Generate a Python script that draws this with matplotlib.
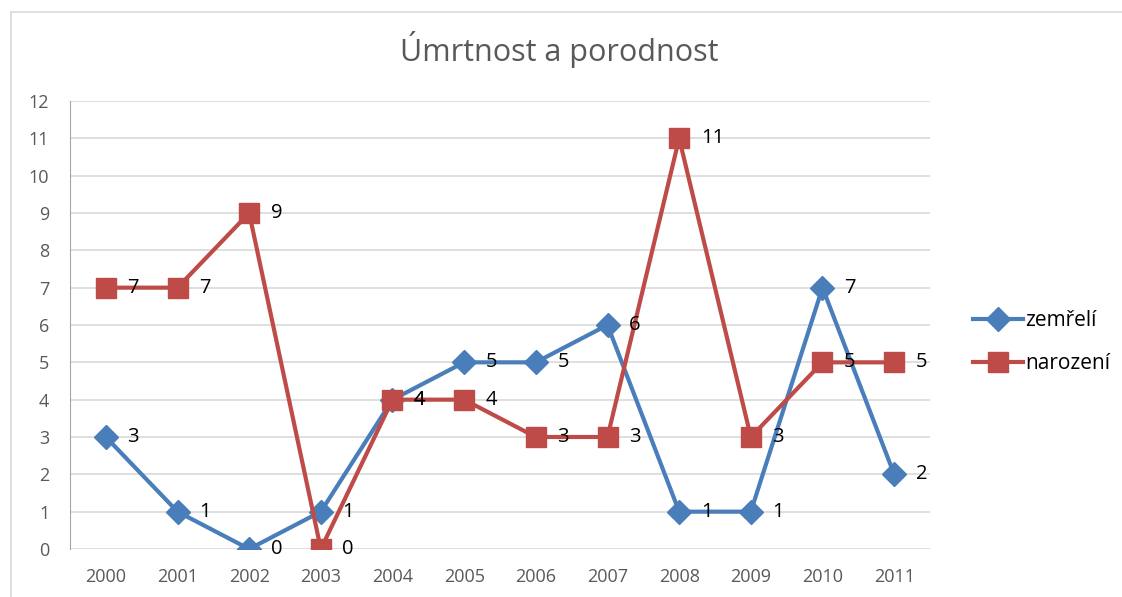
import matplotlib
matplotlib.use("Agg")
import matplotlib.pyplot as plt
from matplotlib.lines import Line2D

plt.rcParams['font.family'] = ['Open Sans', 'DejaVu Sans']

years = ['2000', '2001', '2002', '2003', '2004', '2005',
         '2006', '2007', '2008', '2009', '2010', '2011']
zemreli = [3, 1, 0, 1, 4, 5, 5, 6, 1, 1, 7, 2]
narozeni = [7, 7, 9, 0, 4, 4, 3, 3, 11, 3, 5, 5]

blue = '#4A7EBB'
red = '#BE4B48'
gray_text = '#595959'

fig = plt.figure(figsize=(11.22, 5.97), dpi=100)
ax = fig.add_axes([70 / 1122, 1 - 549 / 597, 860 / 1122, 448 / 597])

x = list(range(len(years)))
ax.plot(x, zemreli, color=blue, lw=3, marker='D', ms=12.5,
        label='zemřelí', zorder=3)
ax.plot(x, narozeni, color=red, lw=3, marker='s', ms=14,
        label='narození', zorder=4)

# data labels to the right of each point
for xi, v in zip(x, zemreli):
    ax.annotate(str(v), (xi, v), xytext=(15.5, 0), textcoords='offset points',
                va='center', ha='left', fontsize=14.5, color='black', zorder=5)
for xi, v in zip(x, narozeni):
    ax.annotate(str(v), (xi, v), xytext=(15.5, 0), textcoords='offset points',
                va='center', ha='left', fontsize=14.5, color='black', zorder=5)

ax.set_xlim(-0.5, len(years) - 0.5)
ax.set_ylim(0, 12)
ax.set_yticks(range(0, 13))
ax.set_xticks(x)
ax.set_xticklabels(years)
ax.grid(axis='y', color='#D9D9D9', lw=1.2)
ax.set_axisbelow(True)
ax.tick_params(length=0, labelsize=13, colors=gray_text)
ax.tick_params(axis='x', pad=14)
ax.tick_params(axis='y', pad=15)
for s in ['top', 'right', 'bottom']:
    ax.spines[s].set_visible(False)
ax.spines['left'].set_color('#A6A6A6')

fig.text(559 / 1122, 1 - 50 / 597, 'Úmrtnost a porodnost', ha='center',
         va='center', fontsize=22, color=gray_text)

ax.legend(loc='center left', bbox_to_anchor=(1.04, 0.462), frameon=False,
          fontsize=15, handlelength=2.4, labelspacing=1.05, handletextpad=0.1,
          borderaxespad=0)

# outer chart border (top and left visible in the crop)
fig.add_artist(Line2D([11 / 1122, 11 / 1122], [0, 1 - 12 / 597],
                      transform=fig.transFigure, color='#D9D9D9', lw=1.2))
fig.add_artist(Line2D([11 / 1122, 1], [1 - 12 / 597, 1 - 12 / 597],
                      transform=fig.transFigure, color='#D9D9D9', lw=1.2))

fig.savefig('out.png', dpi=100)
